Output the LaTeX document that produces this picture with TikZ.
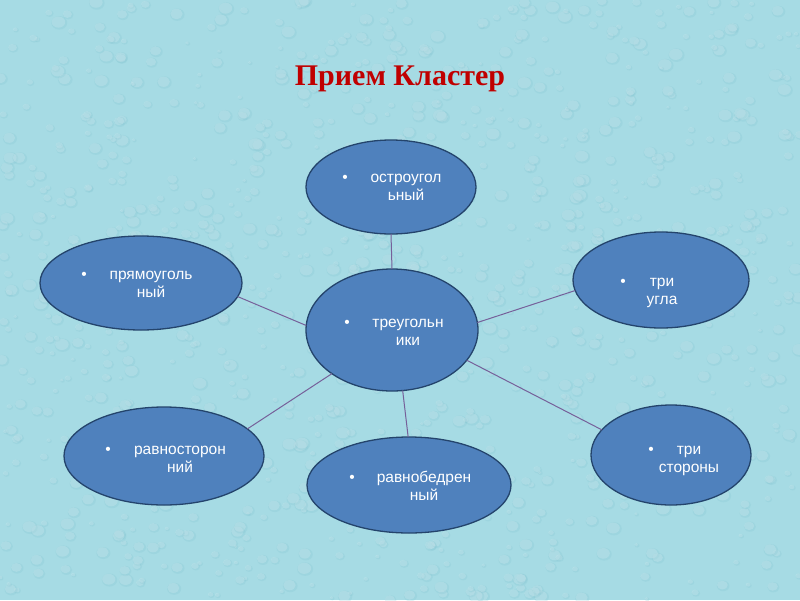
\documentclass[tikz,border=0pt]{standalone}
\usepackage{fontspec}
\setmainfont{Liberation Serif}
\newfontfamily\arialfont{Liberation Sans}
\usetikzlibrary{shapes.geometric}
\definecolor{bg}{HTML}{A6DBE4}
\definecolor{dropdark}{HTML}{7FC2CF}
\definecolor{ellfill}{HTML}{4F81BD}
\definecolor{elldraw}{HTML}{24446C}
\definecolor{linkcol}{HTML}{76609A}
\definecolor{titlered}{HTML}{C00000}
\tikzset{
  bubble/.style={ellipse, fill=ellfill, draw=elldraw, line width=1.3pt, inner sep=0pt, outer sep=0pt},
  btext/.style={text=white, font=\arialfont\fontsize{15.5}{18.5}\selectfont, inner sep=0pt, anchor=base},
  bdot/.style={text=white, font=\arialfont\fontsize{15.5}{18.5}\selectfont, inner sep=0pt, anchor=base},
  link/.style={draw=linkcol, line width=1pt},
}
\newcommand{\twolines}[2]{\begin{tabular}[t]{@{}c@{}}#1\\#2\end{tabular}}
\begin{document}
\begin{tikzpicture}[x=1pt,y=-1pt]
\fill[bg] (0,0) rectangle (800,600);
\begin{scope}
\clip (0,0) rectangle (800,600);
\pgfmathsetseed{7}
\foreach \i in {1,...,1100}{
  \pgfmathsetmacro\xx{rnd*800}
  \pgfmathsetmacro\yy{rnd*600}
  \pgfmathsetmacro\rr{2+rnd*6}
  \fill[dropdark, opacity=0.22] (\xx+0.8,\yy+0.8) ellipse ({\rr pt} and {0.85*\rr pt});
  \fill[white, opacity=0.16] (\xx,\yy) ellipse ({0.85*\rr pt} and {0.7*\rr pt});
}
\end{scope}
\useasboundingbox (0,0) rectangle (800,600);
\node[font=\bfseries\fontsize{30}{32}\selectfont, text=titlered, anchor=base, inner sep=0pt] (title) at (400,85) {Прием Кластер};

\node[bubble, minimum width=170pt, minimum height=94pt] (t) at (391,187) {};
\node[bubble, minimum width=202pt, minimum height=94pt] (l) at (141,283) {};
\node[bubble, minimum width=172pt, minimum height=122pt] (c) at (392,330) {};
\node[bubble, minimum width=176pt, minimum height=96pt] (r) at (661,280) {};
\node[bubble, minimum width=200pt, minimum height=98pt] (bl) at (164,456) {};
\node[bubble, minimum width=204pt, minimum height=96pt] (b) at (409,485) {};
\node[bubble, minimum width=160pt, minimum height=100pt] (br) at (671,455) {};

\draw[link] (t.south) -- (c.north);
\draw[link] (l.-8) -- (c.177);
\draw[link] (r.187) -- (c.5);
\draw[link] (bl.18) -- (c.216);
\draw[link] (b.91) -- (c.-80);
\draw[link] (br.160) -- (c.-22);

\node[bdot] (tdot) at (345,182) {•};
\node[btext] (ttext) at (406,182) {\twolines{остроугол}{ьный}};
\node[bdot] (ldot) at (84,279) {•};
\node[btext] (ltext) at (151,279) {\twolines{прямоуголь}{ный}};
\node[bdot] (cdot) at (347,327) {•};
\node[btext] (ctext) at (408,327) {\twolines{треугольн}{ики}};
\node[bdot] (rdot) at (623,286) {•};
\node[btext] (rtext) at (662,286) {\twolines{три}{угла}};
\node[bdot] (bldot) at (108,454) {•};
\node[btext] (bltext) at (180,454) {\twolines{равносторон}{ний}};
\node[bdot] (bdot1) at (352,482) {•};
\node[btext] (btext1) at (424,482) {\twolines{равнобедрен}{ный}};
\node[bdot] (brdot) at (651,454) {•};
\node[btext] (brtext) at (689,454) {\twolines{три}{стороны}};
\end{tikzpicture}
\end{document}
